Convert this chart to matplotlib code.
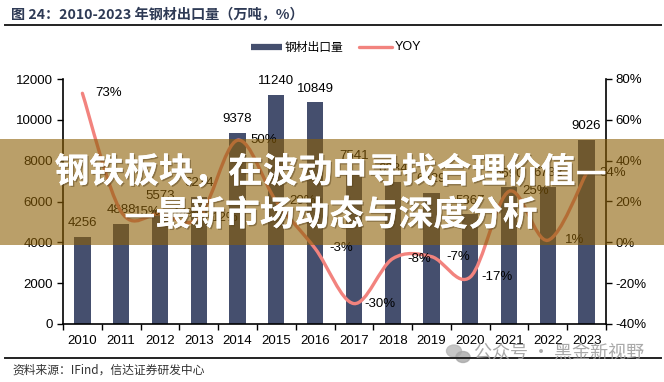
import matplotlib
matplotlib.use("Agg")
import matplotlib.pyplot as plt
from matplotlib.path import Path
from matplotlib.patches import PathPatch, Rectangle, Ellipse
from matplotlib.lines import Line2D
import matplotlib.patheffects as pe
import numpy as np

plt.rcParams['font.family'] = ['Liberation Sans', 'Noto Sans CJK SC', 'DejaVu Sans']

years = ['2010', '2011', '2012', '2013', '2014', '2015', '2016',
         '2017', '2018', '2019', '2020', '2021', '2022', '2023']
exports = [4256, 4888, 5573, 6234, 9378, 11240, 10849,
           7541, 6934, 6429, 5367, 6690, 6732, 9026]
yoy = [73, 15, 14, 12, 50, 20, -3, -30, -8, -7, -17, 25, 1, 34]

title = '图 24：2010-2023 年钢材出口量（万吨，%）'
source = '资料来源：IFind，信达证券研发中心'
bar_name = '钢材出口量'
line_name = 'YOY'
banner_l1 = '钢铁板块，在波动中寻找合理价值—'
banner_l2 = '—最新市场动态与深度分析'
watermark = '公众号 · 黑金新视野'

BAR = '#454F6E'
LINE = '#F2837E'
CJK = ['Noto Sans CJK SC', 'DejaVu Sans']

W, H = 664, 382
fig = plt.figure(figsize=(W / 100, H / 100), dpi=100)

def fx(px):
    return px / W

def fy(py):
    return 1 - py / H

ax = fig.add_axes([fx(63), fy(324), fx(606) - fx(63), fy(79) - fy(324)])
x = np.arange(len(years))
ax.bar(x, exports, width=0.42, color=BAR, zorder=2)
ax.set_xlim(-0.5, len(years) - 0.5)
ax.set_ylim(0, 12000)
ax.set_yticks(range(0, 12001, 2000))
ax.set_xticks(x)
ax.set_xticklabels(years)
ax.set_xticks(np.arange(-0.5, len(years), 1.0), minor=True)
ax.tick_params(axis='x', which='major', length=0, pad=8, labelsize=9.5)
ax.tick_params(axis='x', which='minor', length=4, direction='out', width=1)
ax.tick_params(axis='y', length=4, direction='out', width=1, labelsize=9.5, pad=3)
for s in ['top', 'right']:
    ax.spines[s].set_visible(False)
for s in ['left', 'bottom']:
    ax.spines[s].set_linewidth(1.2)
for xi, v in zip(x, exports):
    ax.annotate(f'{v}', (xi, v), xytext=(0, 10), textcoords='offset points',
                ha='center', va='center', fontsize=9.5, zorder=3)

ax2 = ax.twinx()
ax2.set_ylim(-40, 80)
ax2.set_yticks(range(-40, 81, 20))
ax2.set_yticklabels([f'{v}%' for v in range(-40, 81, 20)])
ax2.tick_params(axis='y', length=4, direction='out', width=1, labelsize=9.5, pad=3)
for s in ['top', 'left', 'bottom']:
    ax2.spines[s].set_visible(False)
ax2.spines['right'].set_linewidth(1.2)

# smooth (Catmull-Rom style) curve through the YOY points
pts = np.column_stack([x.astype(float), np.array(yoy, dtype=float)])
verts = [tuple(pts[0])]
codes = [Path.MOVETO]
n = len(pts)
for i in range(n - 1):
    p0 = pts[i - 1] if i > 0 else pts[i]
    p1 = pts[i]
    p2 = pts[i + 1]
    p3 = pts[i + 2] if i + 2 < n else pts[i + 1]
    c1 = p1 + (p2 - p0) / 6.0
    c2 = p2 - (p3 - p1) / 6.0
    verts += [tuple(c1), tuple(c2), tuple(p2)]
    codes += [Path.CURVE4, Path.CURVE4, Path.CURVE4]
ax2.add_patch(PathPatch(Path(verts, codes), facecolor='none', edgecolor=LINE,
                        lw=2.4, capstyle='round', zorder=4))
for xi, v in zip(x, yoy):
    ax2.annotate(f'{v}%', (xi, v), xytext=(19, 0), textcoords='offset points',
                 ha='center', va='center', fontsize=9.5, zorder=5)

# title and rules
fig.text(fx(11), fy(15), title, fontsize=10.2, fontweight='bold', color='#2E3A55',
         family=CJK, ha='left', va='center')
fig.add_artist(Line2D([fx(5), fx(661)], [fy(25), fy(25)], color='#222222', lw=1.4))
fig.add_artist(Line2D([fx(5), fx(661)], [fy(358), fy(358)], color='#222222', lw=1.4))
fig.text(fx(12), fy(370), source, fontsize=8.5, color='#333333', family=CJK,
         ha='left', va='center', style='italic')

# legend
fig.add_artist(Line2D([fx(251), fx(282)], [fy(47), fy(47)], color=BAR, lw=4.5,
                      solid_capstyle='butt'))
fig.text(fx(285), fy(47), bar_name, fontsize=8.5, family=CJK, ha='left', va='center')
fig.add_artist(Line2D([fx(359), fx(392)], [fy(47), fy(47)], color=LINE, lw=2.4,
                      solid_capstyle='round'))
fig.text(fx(395), fy(47), line_name, fontsize=9, ha='left', va='center')

# watermark
fig.add_artist(Ellipse((fx(454), fy(351)), fx(15), fy(0) - fy(12), color='#B8B8B8', alpha=0.8))
fig.add_artist(Ellipse((fx(463), fy(357)), fx(14), fy(0) - fy(11), color='#A8A8A8', alpha=0.8))
fig.text(fx(474), fy(354), watermark, fontsize=13, color='#A0A0A0', family=CJK,
         ha='left', va='center', alpha=0.9)

# banner overlay
fig.add_artist(Rectangle((0, fy(245)), 1, fy(139) - fy(245), transform=fig.transFigure,
                         facecolor='#8C5F05', alpha=0.6, edgecolor='none', zorder=10))
shadow = [pe.withSimplePatchShadow(offset=(1, -1), shadow_rgbFace='#5a4520', alpha=0.5),
          pe.Normal()]
fig.text(fx(331), fy(172), banner_l1, fontsize=25, fontweight='bold', color='white',
         family=CJK, ha='center', va='center', zorder=11, path_effects=shadow)
fig.text(fx(331), fy(215), banner_l2, fontsize=25, fontweight='bold', color='white',
         family=CJK, ha='center', va='center', zorder=11, path_effects=shadow)

fig.savefig('out.png', dpi=100)
